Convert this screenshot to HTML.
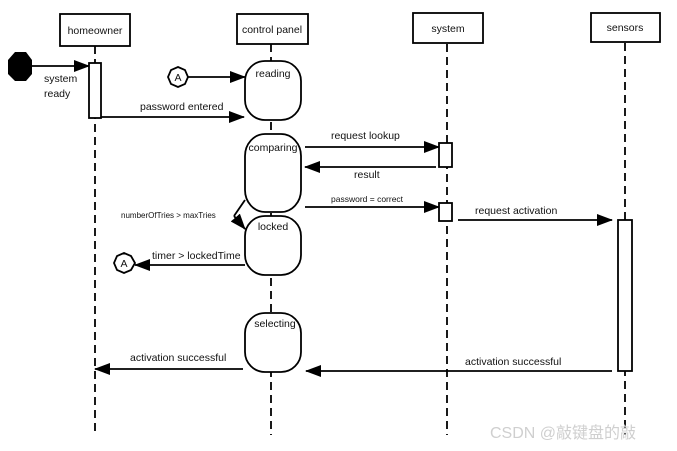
<!DOCTYPE html>
<html><head><meta charset="utf-8"><style>
html,body{margin:0;padding:0;background:#fff;}
svg{display:block}
text{font-family:"Liberation Sans",sans-serif;font-size:10.5px;fill:#111}
</style></head><body>
<svg width="677" height="451" viewBox="0 0 677 451" xmlns="http://www.w3.org/2000/svg">
<defs>
<marker id="ah" markerWidth="16" markerHeight="12" refX="15" refY="6" orient="auto" markerUnits="userSpaceOnUse">
<path d="M0,0 L16,6 L0,12 Z" fill="#000"/>
</marker>
</defs>
<g stroke="#000" stroke-width="1.8" fill="none">
<line x1="95" y1="46" x2="95" y2="435" stroke-dasharray="8,5"/>
<line x1="271" y1="44" x2="271" y2="435" stroke-dasharray="8,5"/>
<line x1="447" y1="44" x2="447" y2="435" stroke-dasharray="8,5"/>
<line x1="625" y1="43" x2="625" y2="435" stroke-dasharray="8,5"/>
</g>
<g stroke="#000" stroke-width="1.8" fill="#fff">
<rect x="60" y="14" width="70" height="32"/>
<rect x="237" y="14" width="71" height="30"/>
<rect x="413" y="13" width="70" height="30"/>
<rect x="591" y="13" width="69" height="29"/>
<rect x="89" y="63" width="12" height="55"/>
<rect x="439" y="143" width="13" height="24"/>
<rect x="439" y="203" width="13" height="18"/>
<rect x="618" y="220" width="14" height="151"/>
<rect x="245" y="61" width="56" height="59" rx="20" ry="20"/>
<rect x="245" y="134" width="56" height="78" rx="20" ry="22"/>
<rect x="245" y="216" width="56" height="59" rx="20" ry="20"/>
<rect x="245" y="313" width="56" height="59" rx="20" ry="20"/>
<polygon points="124,253 131,256 135,263 131,270 124,273 117,270 114,263 117,256"/>
<polygon points="178,67 185,70 188,77 185,84 178,87 171,84 168,77 171,70"/>
</g>
<polygon points="15,52 26,52 32,60 32,74 26,81 15,81 8,74 8,60" fill="#000"/>
<g stroke="#000" stroke-width="1.8" fill="none" marker-end="url(#ah)">
<line x1="32" y1="66" x2="89" y2="66"/>
<line x1="188" y1="77" x2="245" y2="77"/>
<line x1="101" y1="117" x2="244" y2="117"/>
<line x1="305" y1="147" x2="439" y2="147"/>
<line x1="436" y1="167" x2="305" y2="167"/>
<line x1="305" y1="207" x2="439" y2="207"/>
<line x1="458" y1="220" x2="612" y2="220"/>
<line x1="245" y1="200" x2="234" y2="216" marker-end="none"/>
<line x1="234" y1="216" x2="245" y2="229"/>
<line x1="245" y1="265" x2="135" y2="265"/>
<line x1="243" y1="369" x2="95" y2="369"/>
<line x1="612" y1="371" x2="306" y2="371"/>
</g>
<text x="95" y="34" text-anchor="middle">homeowner</text>
<text x="272" y="33" text-anchor="middle">control panel</text>
<text x="448" y="32" text-anchor="middle">system</text>
<text x="625" y="31" text-anchor="middle">sensors</text>
<text x="44" y="82">system</text>
<text x="44" y="97">ready</text>
<text x="273" y="77" text-anchor="middle">reading</text>
<text x="178" y="81" text-anchor="middle" font-size="11">A</text>
<text x="124" y="267" text-anchor="middle" font-size="11">A</text>
<text x="140" y="110">password entered</text>
<text x="273" y="151" text-anchor="middle">comparing</text>
<text x="331" y="139">request lookup</text>
<text x="354" y="178">result</text>
<text x="331" y="202" style="font-size:8.5px">password = correct</text>
<text x="475" y="214">request activation</text>
<text x="121" y="218" style="font-size:8px">numberOfTries &gt; maxTries</text>
<text x="273" y="230" text-anchor="middle">locked</text>
<text x="152" y="259">timer &gt; lockedTime</text>
<text x="275" y="327" text-anchor="middle">selecting</text>
<text x="130" y="361">activation successful</text>
<text x="465" y="365">activation successful</text>
<text x="490" y="438" style="font-size:16px;fill:#cfcfcf;font-family:'Liberation Sans','Noto Sans CJK SC',sans-serif">CSDN @敲键盘的敲</text>
</svg>
</body></html>
